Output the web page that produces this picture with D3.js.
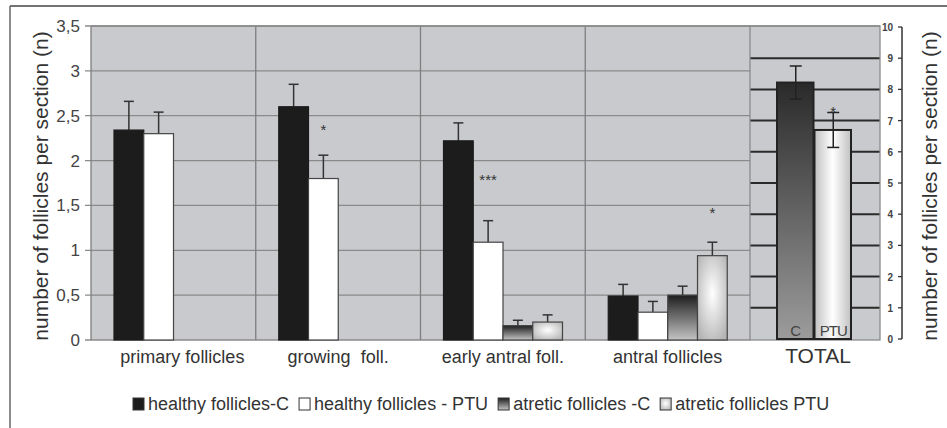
<!DOCTYPE html>
<html>
<head>
<meta charset="utf-8">
<script src="https://cdn.jsdelivr.net/npm/d3@7"></script>
<style>
  body { margin: 0; background: #fff; }
  svg { display: block; font-family: 'Liberation Sans', Arial, sans-serif; }
</style>
</head>
<body>
<div id="chart"></div>
<script>
// categories and series
const categories = ['primary follicles', 'growing\u00a0\u00a0foll.', 'early antral foll.', 'antral follicles'];
const seriesNames = ['healthy follicles-C', 'healthy follicles - PTU', 'atretic follicles -C', 'atretic follicles PTU'];

// mean values per category (left axis)
const healthyC = [2.34, 2.60, 2.22, 0.49];
const healthyPTU = [2.30, 1.80, 1.09, 0.31];
const atreticC = [0, 0, 0.16, 0.50];
const atreticPTU = [0, 0, 0.20, 0.94];

// error (upper whisker) per category
const healthyCErr = [0.32, 0.25, 0.20, 0.13];
const healthyPTUErr = [0.24, 0.26, 0.24, 0.12];
const atreticCErr = [0, 0, 0.06, 0.10];
const atreticPTUErr = [0, 0, 0.08, 0.15];

// significance marks: [category index, series index, label, level]
const stars = [[1, 1, '*', 2.37], [2, 1, '***', 1.82], [3, 3, '*', 1.45]];

// total panel (right axis)
const totalGroups = ['C', 'PTU'];
const totalValues = [8.22, 6.70];
const totalErr = [0.53, 0.56];
const totalStar = 7.38;

const leftTicks = [0, 0.5, 1, 1.5, 2, 2.5, 3, 3.5];
const rightTicks = [0, 1, 2, 3, 4, 5, 6, 7, 8, 9, 10];

const width = 947, height = 428;
const plotLeft = 91, plotRight = 750, plotTop = 26, plotBottom = 340;
const totLeft = 750, totRight = 880;

const svg = d3.select('#chart').append('svg')
	.attr('width', width)
	.attr('height', height);

const defs = svg.append('defs');

let g1 = defs.append('linearGradient').attr('id', 'gAtrC').attr('x1', 0).attr('y1', 0).attr('x2', 0).attr('y2', 1);
g1.append('stop').attr('offset', '0%').attr('stop-color', '#1e1e1e');
g1.append('stop').attr('offset', '100%').attr('stop-color', '#c4c4c4');

let g2 = defs.append('radialGradient').attr('id', 'gAtrPTU').attr('cx', '50%').attr('cy', '45%').attr('r', '65%');
g2.append('stop').attr('offset', '0%').attr('stop-color', '#ffffff');
g2.append('stop').attr('offset', '100%').attr('stop-color', '#b4b4b4');

let g3 = defs.append('linearGradient').attr('id', 'gTotC').attr('x1', 0).attr('y1', 0).attr('x2', 0).attr('y2', 1);
g3.append('stop').attr('offset', '0%').attr('stop-color', '#2a2a2a');
g3.append('stop').attr('offset', '100%').attr('stop-color', '#9c9c9c');

let g4 = defs.append('linearGradient').attr('id', 'gTotPTU').attr('x1', 0).attr('y1', 0).attr('x2', 1).attr('y2', 0);
g4.append('stop').attr('offset', '0%').attr('stop-color', '#c0c0c0');
g4.append('stop').attr('offset', '50%').attr('stop-color', '#ffffff');
g4.append('stop').attr('offset', '100%').attr('stop-color', '#c0c0c0');

const fills = ['#1c1c1c', '#ffffff', 'url(#gAtrC)', 'url(#gAtrPTU)'];

// frame
svg.append('line').attr('x1', 10).attr('y1', 6).attr('x2', width).attr('y2', 6).attr('stroke', '#444').attr('stroke-width', 1.5);
svg.append('line').attr('x1', 10).attr('y1', 6).attr('x2', 10).attr('y2', height).attr('stroke', '#666').attr('stroke-width', 1.5);

// scales
const x = d3.scaleBand().domain(categories).range([plotLeft, plotRight]).padding(0);
const xs = d3.scaleBand().domain(seriesNames).range([23, 142]).padding(0);
const y = d3.scaleLinear().domain([0, 3.5]).range([plotBottom, plotTop]);

const xt = d3.scaleBand().domain(totalGroups).range([777, 852]).padding(0);
const y2 = d3.scaleLinear().domain([0, 10]).range([339, 27]);

// plot background
svg.append('rect').attr('x', plotLeft).attr('y', plotTop).attr('width', totRight - plotLeft).attr('height', plotBottom - plotTop)
	.attr('fill', '#c9cacd');

// left gridlines + ticks
svg.append('g').selectAll('line').data(leftTicks).join('line')
	.attr('x1', plotLeft - 6).attr('x2', plotRight)
	.attr('y1', (d) => y(d)).attr('y2', (d) => y(d))
	.attr('stroke', '#8a8a8a').attr('stroke-width', 1.3);

svg.append('g').selectAll('text').data(leftTicks).join('text')
	.attr('x', 80).attr('y', (d) => y(d) + 6)
	.attr('text-anchor', 'end').attr('font-size', 17).attr('fill', '#444')
	.text((d) => String(d).replace('.', ','));

// category separators
svg.append('g').selectAll('line').data(categories).join('line')
	.attr('x1', (d) => x(d)).attr('x2', (d) => x(d))
	.attr('y1', plotTop).attr('y2', plotBottom)
	.attr('stroke', '#7e7e7e').attr('stroke-width', 1.3);

// total panel gridlines (dark)
svg.append('g').selectAll('line').data(rightTicks.slice(1, 10)).join('line')
	.attr('x1', totLeft).attr('x2', totRight)
	.attr('y1', (d) => y2(d)).attr('y2', (d) => y2(d))
	.attr('stroke', '#2a2a2a').attr('stroke-width', 2);
svg.append('rect').attr('x', totLeft).attr('y', plotTop).attr('width', totRight - totLeft).attr('height', plotBottom - plotTop)
	.attr('fill', 'none').attr('stroke', '#8a8a8a').attr('stroke-width', 1.3);
svg.append('line').attr('x1', plotLeft).attr('x2', totRight).attr('y1', plotTop).attr('y2', plotTop)
	.attr('stroke', '#8a8a8a').attr('stroke-width', 1.3);

// bars
const seriesVals = [healthyC, healthyPTU, atreticC, atreticPTU];
const seriesErr = [healthyCErr, healthyPTUErr, atreticCErr, atreticPTUErr];
const bars = [];
seriesNames.forEach((s, si) => {
	categories.forEach((c, ci) => {
		bars.push({ cat: c, ser: s, si: si, v: seriesVals[si][ci], e: seriesErr[si][ci] });
	});
});

const barG = svg.append('g');
const shown = bars.filter((d) => d.v > 0);
barG.selectAll('line.err').data(shown).join('line')
	.attr('class', 'err')
	.attr('x1', (d) => x(d.cat) + xs(d.ser) + xs.bandwidth() / 2)
	.attr('x2', (d) => x(d.cat) + xs(d.ser) + xs.bandwidth() / 2)
	.attr('y1', (d) => y(d.v)).attr('y2', (d) => y(d.v + d.e))
	.attr('stroke', '#333').attr('stroke-width', 1.5);
barG.selectAll('line.cap').data(shown).join('line')
	.attr('class', 'cap')
	.attr('x1', (d) => x(d.cat) + xs(d.ser) + xs.bandwidth() / 2 - 5)
	.attr('x2', (d) => x(d.cat) + xs(d.ser) + xs.bandwidth() / 2 + 5)
	.attr('y1', (d) => y(d.v + d.e)).attr('y2', (d) => y(d.v + d.e))
	.attr('stroke', '#333').attr('stroke-width', 1.5);
barG.selectAll('rect').data(shown).join('rect')
	.attr('x', (d) => x(d.cat) + xs(d.ser))
	.attr('y', (d) => y(d.v))
	.attr('width', xs.bandwidth())
	.attr('height', (d) => y(0) - y(d.v))
	.attr('fill', (d) => fills[d.si])
	.attr('stroke', (d) => (d.si === 0 ? '#1c1c1c' : '#444'))
	.attr('stroke-width', 1.2);

// stars
svg.append('g').selectAll('text').data(stars).join('text')
	.attr('x', (d) => x(categories[d[0]]) + xs(seriesNames[d[1]]) + xs.bandwidth() / 2)
	.attr('y', (d) => y(d[3]) + 8)
	.attr('text-anchor', 'middle').attr('font-size', 15).attr('fill', '#333')
	.text((d) => d[2]);

// total bars
const totG = svg.append('g');
totG.selectAll('rect').data(totalGroups).join('rect')
	.attr('x', (d) => xt(d))
	.attr('y', (d, i) => y2(totalValues[i]))
	.attr('width', xt.bandwidth() - 1)
	.attr('height', (d, i) => y2(0) - y2(totalValues[i]))
	.attr('fill', (d, i) => (i === 0 ? 'url(#gTotC)' : 'url(#gTotPTU)'))
	.attr('stroke', '#222').attr('stroke-width', 2);
totG.selectAll('line.err').data(totalGroups).join('line')
	.attr('class', 'err')
	.attr('x1', (d) => xt(d) + xt.bandwidth() / 2).attr('x2', (d) => xt(d) + xt.bandwidth() / 2)
	.attr('y1', (d, i) => y2(totalValues[i] - totalErr[i])).attr('y2', (d, i) => y2(totalValues[i] + totalErr[i]))
	.attr('stroke', '#222').attr('stroke-width', 1.5);
[-1, 1].forEach((sgn) => {
	totG.append('g').selectAll('line').data(totalGroups).join('line')
		.attr('x1', (d) => xt(d) + xt.bandwidth() / 2 - 6).attr('x2', (d) => xt(d) + xt.bandwidth() / 2 + 6)
		.attr('y1', (d, i) => y2(totalValues[i] + sgn * totalErr[i])).attr('y2', (d, i) => y2(totalValues[i] + sgn * totalErr[i]))
		.attr('stroke', '#222').attr('stroke-width', 1.5);
});
totG.selectAll('text').data(totalGroups).join('text')
	.attr('x', (d) => xt(d) + xt.bandwidth() / 2)
	.attr('y', 336)
	.attr('text-anchor', 'middle').attr('font-size', 15).attr('fill', '#444')
	.attr('letter-spacing', (d) => (d === 'PTU' ? -1 : 0))
	.text((d) => d);
totG.append('text')
	.attr('x', xt('PTU') + xt.bandwidth() / 2).attr('y', y2(totalStar) + 8)
	.attr('text-anchor', 'middle').attr('font-size', 15).attr('fill', '#333')
	.text('*');

// right axis
const rAxis = svg.append('g').attr('transform', 'translate(902,0)');
rAxis.append('line').attr('x1', 0).attr('x2', 0).attr('y1', y2(10)).attr('y2', y2(0)).attr('stroke', '#333').attr('stroke-width', 1.5);
rAxis.selectAll('line.t').data(rightTicks).join('line')
	.attr('class', 't')
	.attr('x1', -4).attr('x2', 0)
	.attr('y1', (d) => y2(d)).attr('y2', (d) => y2(d))
	.attr('stroke', '#333').attr('stroke-width', 1.3);
rAxis.selectAll('text').data(rightTicks).join('text')
	.attr('x', -9).attr('y', (d) => y2(d) + 4)
	.attr('text-anchor', 'end').attr('font-size', 10).attr('font-weight', 'bold').attr('fill', '#444')
	.text((d) => d);

// category labels
svg.append('g').selectAll('text').data(categories).join('text')
	.attr('x', (d) => x(d) + x.bandwidth() / 2 + (d === categories[0] ? 9 : 0))
	.attr('y', 363)
	.attr('text-anchor', 'middle').attr('font-size', 18).attr('fill', '#333')
	.text((d) => d);
svg.append('text').attr('x', 818).attr('y', 363)
	.attr('text-anchor', 'middle').attr('font-size', 21).attr('fill', '#333')
	.text('TOTAL');

// axis titles
const yTitle = 'number of follicles per section (n)';
svg.append('text')
	.attr('transform', 'translate(48,186) rotate(-90)')
	.attr('text-anchor', 'middle').attr('font-size', 21).attr('fill', '#333')
	.text(yTitle);
svg.append('text')
	.attr('transform', 'translate(937,186) rotate(-90)')
	.attr('text-anchor', 'middle').attr('font-size', 21).attr('fill', '#333')
	.text(yTitle);

// legend
const legend = svg.append('g');
let lx = 133;
seriesNames.forEach((s, i) => {
	legend.append('rect').attr('x', lx).attr('y', 398).attr('width', 11).attr('height', 12)
		.attr('fill', fills[i]).attr('stroke', '#333').attr('stroke-width', 1);
	let t = legend.append('text').attr('x', lx + 15).attr('y', 410)
		.attr('font-size', 18).attr('fill', '#333').text(s);
	lx += 15 + t.node().getComputedTextLength() + 10;
});
</script>
</body>
</html>
